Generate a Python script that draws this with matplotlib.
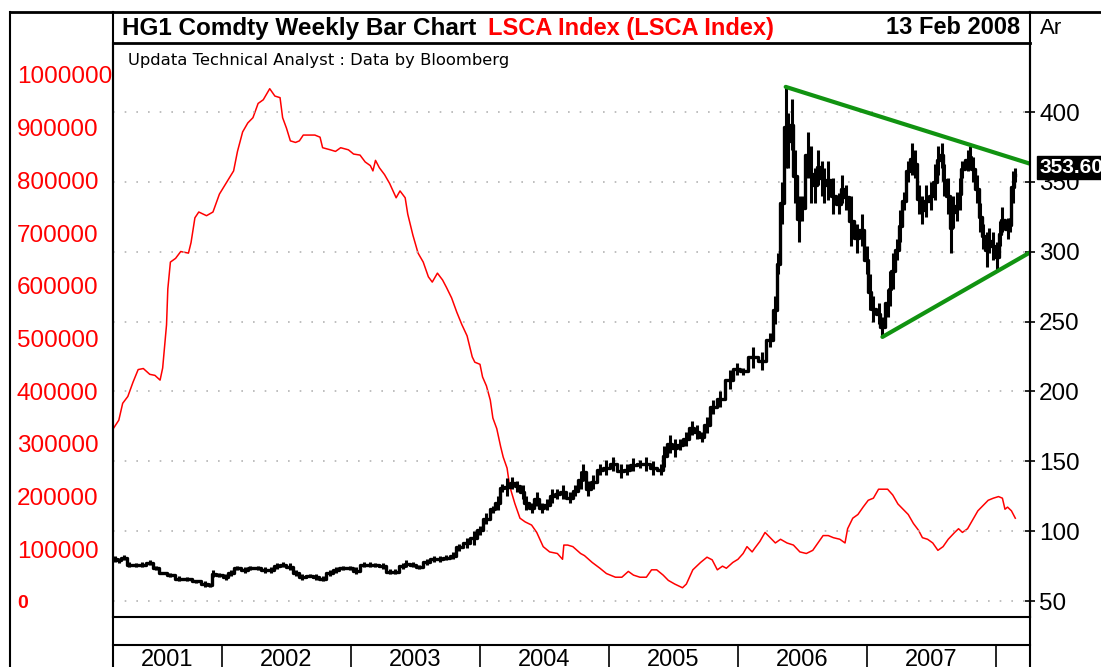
import matplotlib
matplotlib.use("Agg")
import matplotlib.pyplot as plt
from matplotlib.lines import Line2D

plt.rcParams['font.family'] = ['Liberation Sans', 'DejaVu Sans']

W, H = 1101, 667

# HG1 copper, weekly bars (decimal year, low, high) in US cents/lb
hg_dates = [2001.17, 2001.20, 2001.24, 2001.28, 2001.33, 2001.38, 2001.44, 2001.49, 2001.54, 2001.60,
            2001.67, 2001.73, 2001.80, 2001.87, 2001.91, 2001.93, 2001.98, 2002.03, 2002.07, 2002.12,
            2002.18, 2002.22, 2002.28, 2002.33, 2002.38, 2002.43, 2002.47, 2002.53, 2002.57, 2002.62,
            2002.68, 2002.73, 2002.78, 2002.84, 2002.88, 2002.94, 2002.99, 2003.04, 2003.10, 2003.15,
            2003.19, 2003.25, 2003.30, 2003.34, 2003.40, 2003.43, 2003.48, 2003.53, 2003.59, 2003.64,
            2003.69, 2003.74, 2003.79, 2003.84, 2003.90, 2003.95, 2004.00, 2004.05, 2004.10, 2004.14,
            2004.17, 2004.21, 2004.25, 2004.29, 2004.33, 2004.36, 2004.40, 2004.44, 2004.48, 2004.52,
            2004.56, 2004.60, 2004.64, 2004.70, 2004.74, 2004.78, 2004.80, 2004.84, 2004.88, 2004.93,
            2004.98, 2005.03, 2005.09, 2005.14, 2005.19, 2005.24, 2005.29, 2005.34, 2005.40, 2005.43,
            2005.47, 2005.51, 2005.55, 2005.60, 2005.64, 2005.68, 2005.72, 2005.76, 2005.81, 2005.86,
            2005.94, 2005.99, 2006.04, 2006.12, 2006.19, 2006.25, 2006.29, 2006.31, 2006.34, 2006.37,
            2006.39, 2006.42, 2006.44, 2006.47, 2006.50, 2006.54, 2006.57, 2006.60, 2006.62, 2006.65,
            2006.67, 2006.70, 2006.74, 2006.78, 2006.81, 2006.84, 2006.88, 2006.92, 2006.96, 2007.00,
            2007.02, 2007.05, 2007.09, 2007.12, 2007.16, 2007.18, 2007.20, 2007.23, 2007.26, 2007.29,
            2007.32, 2007.35, 2007.37, 2007.40, 2007.43, 2007.46, 2007.50, 2007.53, 2007.55, 2007.58,
            2007.60, 2007.63, 2007.65, 2007.67, 2007.70, 2007.72, 2007.74, 2007.78, 2007.80, 2007.82,
            2007.85, 2007.88, 2007.90, 2007.93, 2007.95, 2007.98, 2008.01, 2008.03, 2008.05, 2008.09,
            2008.11, 2008.13, 2008.15]
hg_low = [78, 77, 79, 74, 74, 74, 76, 72, 69, 67,
          64, 64, 63, 60, 60, 67, 67, 65, 68, 72,
          70, 72, 72, 70, 70, 73, 74, 72, 68, 65,
          67, 65, 64, 68, 70, 72, 72, 69, 74, 74,
          74, 73, 69, 69, 73, 74, 74, 73, 76, 78,
          78, 79, 80, 86, 88, 90, 97, 105, 113, 115,
          128, 125, 130, 128, 123, 115, 113, 118, 113, 115,
          120, 123, 123, 120, 125, 130, 136, 125, 130, 140,
          140, 143, 138, 140, 143, 145, 143, 140, 140, 146,
          156, 153, 158, 161, 169, 166, 164, 170, 184, 189,
          202, 212, 212, 217, 215, 232, 248, 284, 320, 360,
          360, 373, 335, 307, 322, 353, 335, 335, 348, 340,
          335, 337, 327, 327, 335, 330, 304, 299, 304, 284,
          258, 250, 248, 239, 253, 261, 273, 294, 307, 330,
          350, 355, 353, 327, 320, 325, 330, 337, 355, 360,
          340, 327, 299, 317, 322, 330, 353, 358, 360, 350,
          335, 314, 302, 289, 299, 294, 286, 304, 314, 309,
          314, 335, 350]
hg_high = [82, 81, 83, 78, 77, 78, 79, 75, 71, 70,
           68, 67, 65, 64, 63, 72, 70, 69, 72, 75,
           74, 75, 75, 74, 74, 77, 78, 77, 72, 69,
           69, 69, 68, 72, 74, 75, 75, 74, 78, 78,
           77, 77, 73, 73, 77, 79, 78, 76, 80, 82,
           82, 83, 85, 91, 95, 100, 104, 113, 118, 125,
           134, 138, 139, 136, 133, 125, 120, 128, 120, 123,
           130, 130, 133, 128, 133, 143, 148, 136, 140, 148,
           151, 153, 148, 148, 152, 151, 153, 150, 148, 161,
           169, 166, 166, 171, 179, 176, 171, 182, 194, 200,
           215, 220, 217, 232, 228, 242, 268, 299, 350, 418,
           399, 409, 373, 340, 340, 386, 376, 360, 373, 365,
           360, 365, 353, 342, 355, 348, 340, 320, 327, 304,
           284, 268, 263, 253, 273, 286, 299, 309, 330, 343,
           365, 378, 373, 348, 340, 348, 350, 363, 376, 378,
           363, 353, 335, 340, 343, 353, 365, 373, 376, 368,
           355, 335, 320, 314, 317, 314, 307, 322, 332, 324,
           324, 358, 360]
hg_last = 353.60

# LSCA Index, LME copper stocks (decimal year, tonnes / 1000)
lsca_dates = [2001.16, 2001.20, 2001.23, 2001.27, 2001.31, 2001.35, 2001.39, 2001.44, 2001.48, 2001.52,
              2001.54, 2001.57, 2001.58, 2001.60, 2001.64, 2001.68, 2001.74, 2001.76, 2001.79, 2001.82,
              2001.88, 2001.93, 2001.98, 2002.03, 2002.09, 2002.12, 2002.16, 2002.20, 2002.24, 2002.28,
              2002.32, 2002.37, 2002.41, 2002.45, 2002.47, 2002.50, 2002.53, 2002.57, 2002.60, 2002.63,
              2002.68, 2002.72, 2002.76, 2002.78, 2002.84, 2002.88, 2002.92, 2002.98, 2003.02, 2003.07,
              2003.11, 2003.15, 2003.17, 2003.19, 2003.22, 2003.26, 2003.30, 2003.35, 2003.38, 2003.42,
              2003.44, 2003.48, 2003.52, 2003.56, 2003.60, 2003.63, 2003.67, 2003.71, 2003.74, 2003.78,
              2003.82, 2003.86, 2003.90, 2003.94, 2003.96, 2004.00, 2004.02, 2004.05, 2004.08, 2004.10,
              2004.13, 2004.16, 2004.18, 2004.21, 2004.23, 2004.27, 2004.31, 2004.35, 2004.40, 2004.44,
              2004.49, 2004.54, 2004.60, 2004.64, 2004.65, 2004.68, 2004.72, 2004.78, 2004.81, 2004.87,
              2004.93, 2004.98, 2005.05, 2005.10, 2005.15, 2005.19, 2005.24, 2005.29, 2005.33, 2005.37,
              2005.42, 2005.46, 2005.51, 2005.57, 2005.60, 2005.65, 2005.71, 2005.76, 2005.80, 2005.84,
              2005.88, 2005.91, 2005.96, 2006.00, 2006.04, 2006.07, 2006.11, 2006.13, 2006.17, 2006.21,
              2006.25, 2006.29, 2006.33, 2006.38, 2006.43, 2006.48, 2006.53, 2006.58, 2006.62, 2006.66,
              2006.70, 2006.74, 2006.79, 2006.83, 2006.85, 2006.89, 2006.93, 2006.97, 2007.01, 2007.05,
              2007.09, 2007.12, 2007.16, 2007.20, 2007.24, 2007.28, 2007.32, 2007.36, 2007.40, 2007.43,
              2007.47, 2007.51, 2007.55, 2007.59, 2007.63, 2007.68, 2007.71, 2007.74, 2007.78, 2007.82,
              2007.86, 2007.90, 2007.94, 2007.98, 2008.02, 2008.05, 2008.07, 2008.09, 2008.12, 2008.15]
lsca_k = [330, 345, 377, 390, 417, 441, 443, 432, 430, 421,
          444, 526, 594, 645, 652, 665, 662, 682, 729, 740,
          733, 740, 774, 794, 818, 855, 892, 909, 919, 946,
          953, 974, 960, 957, 919, 899, 875, 872, 875, 886,
          886, 886, 882, 862, 858, 855, 862, 858, 850, 848,
          835, 828, 818, 838, 824, 811, 794, 767, 780, 767,
          736, 696, 662, 645, 617, 607, 624, 611, 597, 577,
          550, 526, 505, 465, 455, 451, 427, 410, 383, 349,
          329, 295, 275, 254, 220, 187, 159, 152, 146, 132,
          105, 95, 92, 81, 108, 108, 105, 92, 88, 75,
          64, 54, 47, 47, 58, 51, 47, 47, 61, 61,
          51, 41, 34, 27, 34, 61, 75, 85, 80, 61,
          68, 64, 75, 81, 92, 105, 95, 102, 115, 132,
          122, 112, 119, 112, 108, 95, 92, 98, 112, 126,
          126, 122, 119, 112, 139, 159, 166, 180, 193, 197,
          214, 214, 214, 203, 186, 176, 166, 149, 136, 122,
          119, 112, 98, 105, 119, 132, 139, 132, 139, 156,
          173, 183, 193, 197, 200, 197, 176, 180, 173, 159]

# triangle trend lines drawn on the chart (decimal year, price)
upper_trend_x = [2006.37, 2008.264]
upper_trend_y = [418, 363]
lower_trend_x = [2007.12, 2008.264]
lower_trend_y = [239, 299.5]

price_ticks = [50, 100, 150, 200, 250, 300, 350, 400]
stock_ticks = [0, 100000, 200000, 300000, 400000, 500000, 600000, 700000, 800000, 900000, 1000000]
years = [2001, 2002, 2003, 2004, 2005, 2006, 2007]
year_starts = [2002, 2003, 2004, 2005, 2006, 2007, 2008]

X0, X1 = 2001.155, 2008.264


def fx(x):
    return x / W


def fy(y):
    return 1 - y / H


def fig_line(fig, xs, ys, lw):
    fig.add_artist(Line2D([fx(v) for v in xs], [fy(v) for v in ys],
                          color='black', lw=lw, transform=fig.transFigure))


fig = plt.figure(figsize=(W / 100, H / 100), dpi=100)

# main panel, red stocks drawn first
ax_red = fig.add_axes([fx(113), fy(617), fx(1030) - fx(113), (617 - 43) / H])
ax_red.set_xlim(X0, X1)
ax_red.set_ylim(-28.5e3, 1060.7e3)
ax_red.plot(lsca_dates, [v * 1000 for v in lsca_k], color='#ff0000', lw=1.1)
ax_red.set_xticks([])
ax_red.set_yticks(stock_ticks)
ax_red.set_yticklabels([str(v) for v in stock_ticks])
ax_red.tick_params(axis='y', length=0, pad=(113 - 17) * 0.72, labelsize=17.5, labelcolor='#ff0000')
for lbl in ax_red.get_yticklabels():
    lbl.set_horizontalalignment('left')
ax_red.get_yticklabels()[0].set_fontweight('bold')
ax_red.get_yticklabels()[0].set_fontsize(14)
for s in ax_red.spines.values():
    s.set_visible(False)

# price panel on top
ax = ax_red.twinx()
ax.set_xlim(X0, X1)
ax.set_ylim(38.55, 449.4)
ax.patch.set_visible(False)
ax.set_yticks(price_ticks)
ax.set_yticklabels([str(v) for v in price_ticks])
ax.tick_params(axis='y', direction='inout', length=7, width=1.2, pad=3, labelsize=17.5)
ax.grid(axis='y', color='#b4b4b4', linestyle=(0, (1, 6)), lw=1.2)
ax.set_axisbelow(True)
for side in ['left', 'right', 'bottom']:
    ax.spines[side].set_linewidth(1.5)
ax.spines['top'].set_visible(False)

mids = [(lo + hi) / 2 for lo, hi in zip(hg_low, hg_high)]
ax.vlines(hg_dates, hg_low, hg_high, color='black', lw=2.2)
ax.plot(hg_dates, mids, color='black', lw=2.4, drawstyle='steps-mid')

ax.plot(upper_trend_x, upper_trend_y, color='#119311', lw=3, solid_capstyle='round')
ax.plot(lower_trend_x, lower_trend_y, color='#119311', lw=3, solid_capstyle='round')

ax.text((1039 - 113) / 917, hg_last, f'{hg_last:.2f}', transform=ax.get_yaxis_transform(),
        color='white', fontsize=15, fontweight='bold', va='bottom', ha='left', clip_on=False,
        bbox=dict(boxstyle='square,pad=0.1', fc='black', ec='black'))

# year strip
ax_yr = fig.add_axes([fx(113), 0, fx(1030) - fx(113), (667 - 645) / H])
ax_yr.set_xlim(X0, X1)
ax_yr.set_ylim(0, 1)
ax_yr.set_xticks([])
ax_yr.set_yticks([])
ax_yr.spines['bottom'].set_visible(False)
ax_yr.spines['left'].set_visible(False)
ax_yr.spines['right'].set_visible(False)
ax_yr.spines['top'].set_linewidth(1.5)
for ys in year_starts:
    ax_yr.axvline(ys, color='black', lw=1.2)
for yr in years:
    lo = max(yr, X0)
    ax_yr.text((lo + yr + 1) / 2, 0.8, str(yr), ha='center', va='top', fontsize=17)

# frame and title bar
fig_line(fig, [10, 1101], [12, 12], 2)
fig_line(fig, [10, 10], [12, 667], 1.5)
fig_line(fig, [113, 113], [12, 667], 1.5)
fig_line(fig, [1030, 1030], [12, 667], 1.5)
fig_line(fig, [113, 1030], [43, 43], 2)

fig.text(fx(122), fy(28), 'HG1 Comdty Weekly Bar Chart', fontsize=17.5, fontweight='bold',
         ha='left', va='center')
fig.text(fx(488), fy(28), 'LSCA Index (LSCA Index)', fontsize=17, fontweight='bold',
         color='#ff0000', ha='left', va='center')
fig.text(fx(1020), fy(28), '13 Feb 2008', fontsize=17, fontweight='bold', ha='right', va='center')
fig.text(fx(1040), fy(28), 'Ar', fontsize=16, ha='left', va='center')
fig.text(fx(128), fy(61), 'Updata Technical Analyst : Data by Bloomberg', fontsize=11.8,
         family=['DejaVu Sans'], ha='left', va='center')

fig.savefig('out.png', dpi=100)
